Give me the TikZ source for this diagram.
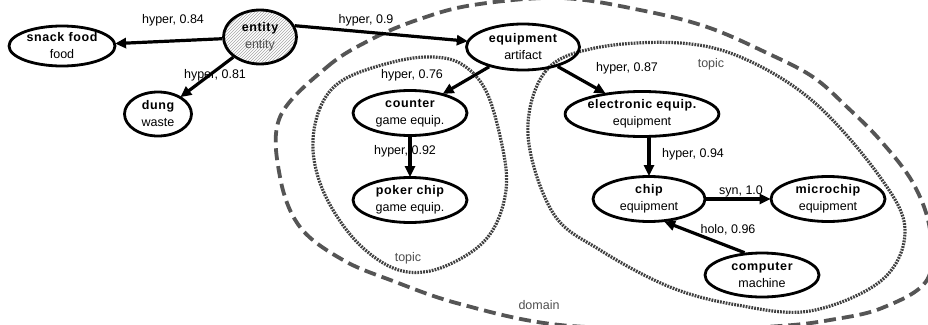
\documentclass[tikz,border=0pt]{standalone}
\usepackage{fontspec}
\setmainfont{Liberation Sans}
\usetikzlibrary{shapes.geometric,arrows.meta,patterns}
\definecolor{loopgray}{HTML}{555555}
\definecolor{dotgray}{HTML}{404040}
\definecolor{txtgray}{HTML}{505050}
\newcommand\nbtitle[1]{{\bfseries\addfontfeature{LetterSpace=5}#1}}
\begin{document}
\begin{tikzpicture}[x=1pt,y=-1pt,
  wn/.style={ellipse, draw, line width=2.8pt, inner sep=0pt, align=center,
    font=\fontsize{12.5}{17}\selectfont},
  rel/.style={line width=3.2pt, -{Triangle[length=11pt,width=10pt]}, shorten >=-1pt},
  lab/.style={font=\fontsize{12.5}{14}\selectfont, inner sep=0pt},
  glab/.style={font=\fontsize{12.5}{14}\selectfont, inner sep=0pt, text=txtgray},
  topicloop/.style={draw=dotgray, line width=3.2pt, dash pattern=on 1.8pt off 1.1pt},
  domainloop/.style={draw=loopgray, line width=3.8pt, dash pattern=on 12pt off 6pt}]
\useasboundingbox (0,0) rectangle (928,324);
\clip (0,0) rectangle (928,324);
\fill[white] (0,0) rectangle (928,324);

% domain (dashed)
\draw[domainloop] plot[smooth cycle, tension=0.6] coordinates {
  (280,117) (327,67) (370,40) (417,20) (473,5) (560,-2) (640,10) (707,27)
  (767,53) (813,77) (847,107) (880,140) (913,183) (930,230) (927,280)
  (882,308) (830,320) (780,326) (700,329) (560,325) (460,304) (393,281)
  (343,260) (300,227) (280,177)};

% topic loops (dotted)
\draw[topicloop] plot[smooth cycle, tension=0.6] coordinates {
  (313,150) (320,108) (343,80) (393,62) (433,57) (463,65) (487,93)
  (503,150) (506,190) (494,228) (470,253) (430,271) (393,268) (355,240) (325,195)};
\draw[topicloop] plot[smooth cycle, tension=0.6] coordinates {
  (528,135) (545,72) (595,48) (680,43) (745,59) (815,103) (880,177)
  (905,230) (882,280) (810,311) (737,305) (670,287) (600,250) (553,213)};

% nodes
\node[wn, minimum width=106pt, minimum height=40pt] (snack) at (62,46) {\nbtitle{snack food}\\food};
\node[wn, minimum width=73pt, minimum height=54pt, pattern=north east lines, pattern color=gray!70] (entity) at (260,37) {\nbtitle{entity}\\\textcolor{txtgray}{entity}};
\node[wn, minimum width=67pt, minimum height=44pt] (dung) at (158,114) {\nbtitle{dung}\\waste};
\node[wn, minimum width=113pt, minimum height=46pt] (equip) at (523,47) {\nbtitle{equipment}\\artifact};
\node[wn, minimum width=114pt, minimum height=45pt] (counter) at (410,113) {\nbtitle{counter}\\game equip.};
\node[wn, minimum width=114pt, minimum height=45pt] (poker) at (410,200) {\nbtitle{poker chip}\\game equip.};
\node[wn, minimum width=126pt, minimum height=45pt] (elec) at (642,114) {\nbtitle{electronic equip.}\\equipment};
\node[wn, minimum width=112pt, minimum height=45pt] (chip) at (649,199) {\nbtitle{chip}\\equipment};
\node[wn, minimum width=114pt, minimum height=45pt] (micro) at (828,199) {\nbtitle{microchip}\\equipment};
\node[wn, minimum width=114pt, minimum height=44pt] (comp) at (762,275) {\nbtitle{computer}\\machine};

% connectors
\draw[rel] (entity) -- (snack);
\draw[rel] (entity) -- (dung);
\draw[rel] (entity.18) -- (equip.174);
\draw[rel] (equip) -- (counter);
\draw[rel] (counter) -- (poker);
\draw[rel] (equip) -- (elec);
\draw[rel] (chip.north |- elec.south) -- (chip.north);
\draw[rel] (chip) -- (micro);
\draw[rel] (comp.128) -- (chip.-55);

% labels
\node[lab] (l1) at (173,20) {hyper, 0.84};
\node[lab] (l2) at (215,75) {hyper, 0.81};
\node[lab] (l3) at (366,20) {hyper, 0.9};
\node[lab] (l4) at (412,75) {hyper, 0.76};
\node[lab] (l5) at (405,151) {hyper, 0.92};
\node[lab] (l6) at (627,68) {hyper, 0.87};
\node[lab] (l7) at (693,154) {hyper, 0.94};
\node[lab] (l8) at (741,191) {syn, 1.0};
\node[lab] (l9) at (728,230) {holo, 0.96};
\node[glab] (t1) at (711,64) {topic};
\node[glab] (t2) at (408,258) {topic};
\node[glab] (d1) at (539,305) {domain};
\end{tikzpicture}
\end{document}
